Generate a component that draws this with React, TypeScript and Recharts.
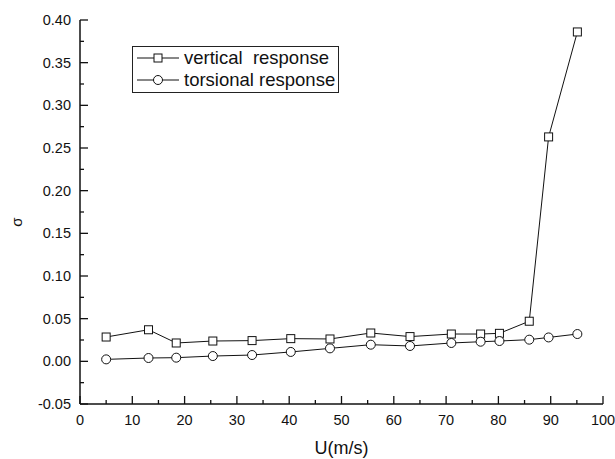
import React from 'react';
import {
    LineChart, Line, XAxis, YAxis, Label,
} from 'recharts';

const speeds = [5.0, 13.1, 18.4, 25.4, 32.9, 40.3, 47.8, 55.6, 63.1, 71.0, 76.6, 80.2, 85.9, 89.6, 95.1];
const verticalResp = [0.0285, 0.037, 0.0215, 0.0238, 0.0243, 0.0266, 0.0262, 0.0332, 0.029, 0.032, 0.032, 0.0328, 0.047, 0.263, 0.386];
const torsionalResp = [0.0023, 0.0039, 0.0043, 0.0062, 0.0074, 0.011, 0.0152, 0.0195, 0.018, 0.0215, 0.023, 0.0238, 0.0254, 0.028, 0.032];

const xTicks = [0, 5, 10, 15, 20, 25, 30, 35, 40, 45, 50, 55, 60, 65, 70, 75, 80, 85, 90, 95, 100];
const yTicks = [-0.05, -0.025, 0, 0.025, 0.05, 0.075, 0.1, 0.125, 0.15, 0.175, 0.2, 0.225, 0.25, 0.275, 0.3, 0.325, 0.35, 0.375, 0.4];

const seriesNames = ['vertical  response', 'torsional response'];

const data = speeds.map((u, i) => ({
    u,
    vertical: verticalResp[i],
    torsional: torsionalResp[i],
}));

const FONT = '"Liberation Sans", Arial, sans-serif';
const INK = '#111';

function XTick(props: any) {
    const { x, y, payload } = props;
    const v = payload.value;
    const major = v % 10 === 0;
    return (
        <g>
            <line x1={x} x2={x} y1={y} y2={y - (major ? 8 : 4)} stroke={INK} strokeWidth={1.3} />
            {major && (
                <text x={x} y={y + 21} textAnchor="middle" fontSize={14.5} fontFamily={FONT} fill={INK}>
                    {v}
                </text>
            )}
        </g>
    );
}

function YTick(props: any) {
    const { x, y, payload } = props;
    const v = payload.value;
    const major = Math.abs(Math.round(v * 1000)) % 50 === 0;
    return (
        <g>
            <line x1={x} x2={x + (major ? 8 : 4)} y1={y} y2={y} stroke={INK} strokeWidth={1.3} />
            {major && (
                <text x={x - 9} y={y + 5} textAnchor="end" fontSize={14.5} fontFamily={FONT} fill={INK}>
                    {v.toFixed(2)}
                </text>
            )}
        </g>
    );
}

function SquareDot(props: any) {
    const { cx, cy } = props;
    if (cx == null || cy == null) return null;
    return <rect x={cx - 4} y={cy - 4} width={8} height={8} fill="#fff" stroke={INK} strokeWidth={1} />;
}

function CircleDot(props: any) {
    const { cx, cy } = props;
    if (cx == null || cy == null) return null;
    return <circle cx={cx} cy={cy} r={4.5} fill="#fff" stroke={INK} strokeWidth={1} />;
}

function LegendBox() {
    return (
        <div
            style={{
                position: 'absolute',
                left: 132,
                top: 46,
                width: 207,
                height: 47,
                border: '1px solid #222',
                boxSizing: 'border-box',
                background: '#fff',
                fontFamily: FONT,
                fontSize: 18.5,
                color: INK,
            }}
        >
            {seriesNames.map((name, i) => (
                <div key={name} style={{ display: 'flex', alignItems: 'center', height: 22, whiteSpace: 'pre' }}>
                    <svg width={48} height={22} style={{ flexShrink: 0 }}>
                        <line x1={4} x2={46} y1={11} y2={11} stroke={INK} strokeWidth={1} />
                        {i === 0
                            ? <rect x={21} y={7} width={8} height={8} fill="#fff" stroke={INK} />
                            : <circle cx={25} cy={11} r={4.5} fill="#fff" stroke={INK} />}
                    </svg>
                    <span style={{ marginLeft: 3, lineHeight: '22px' }}>{name}</span>
                </div>
            ))}
        </div>
    );
}

export default function App() {
    return (
        <div style={{ position: 'absolute', left: 0, top: 0, width: 615, height: 459, background: '#fff' }}>
            <LineChart
                width={615}
                height={459}
                data={data}
                margin={{ top: 20, right: 12, bottom: 0, left: 0 }}
            >
                <XAxis
                    dataKey="u"
                    type="number"
                    domain={[0, 100]}
                    ticks={xTicks}
                    interval={0}
                    height={55}
                    tickSize={0}
                    tickMargin={0}
                    tickLine={false}
                    tick={<XTick />}
                    axisLine={{ stroke: INK, strokeWidth: 1.5 }}
                >
                    <Label
                        content={({ viewBox }: any) => (
                            <text
                                x={viewBox.x + viewBox.width / 2}
                                y={viewBox.y + 50}
                                textAnchor="middle"
                                fontSize={18}
                                fontFamily={FONT}
                                fill={INK}
                            >
                                U(m/s)
                            </text>
                        )}
                    />
                </XAxis>
                <YAxis
                    type="number"
                    domain={[-0.05, 0.4]}
                    ticks={yTicks}
                    interval={0}
                    width={80}
                    allowDataOverflow
                    tickSize={0}
                    tickMargin={0}
                    tickLine={false}
                    tick={<YTick />}
                    axisLine={{ stroke: INK, strokeWidth: 1.5 }}
                >
                    <Label
                        content={({ viewBox }: any) => {
                            const cx = 16;
                            const cy = viewBox.y + viewBox.height / 2 + 10;
                            return (
                                <text
                                    x={cx}
                                    y={cy}
                                    transform={`rotate(-90 ${cx} ${cy})`}
                                    textAnchor="middle"
                                    dominantBaseline="central"
                                    fontSize={15}
                                    fontFamily={FONT}
                                    fill={INK}
                                >
                                    σ
                                </text>
                            );
                        }}
                    />
                </YAxis>
                <Line
                    dataKey="vertical"
                    stroke={INK}
                    strokeWidth={1}
                    dot={<SquareDot />}
                    activeDot={false}
                    isAnimationActive={false}
                />
                <Line
                    dataKey="torsional"
                    stroke={INK}
                    strokeWidth={1}
                    dot={<CircleDot />}
                    activeDot={false}
                    isAnimationActive={false}
                />
            </LineChart>
            <LegendBox />
        </div>
    );
}
